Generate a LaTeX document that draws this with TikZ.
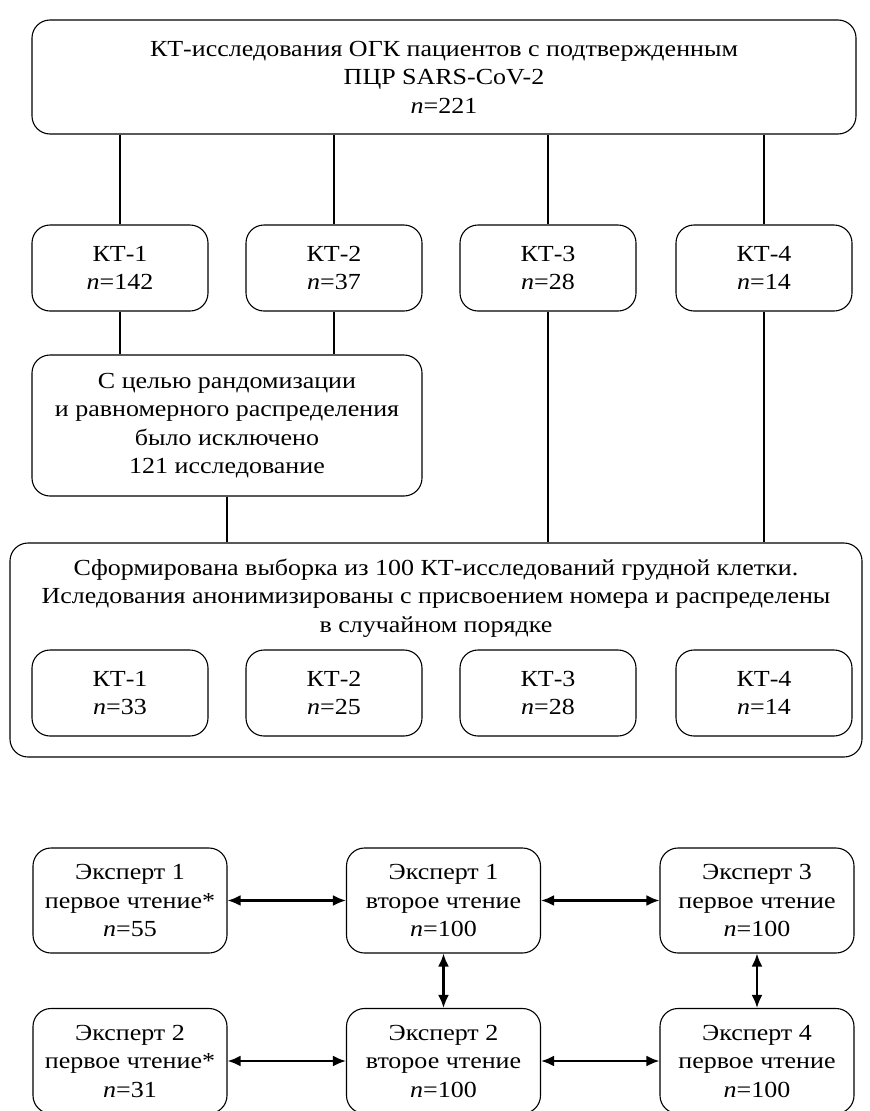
\documentclass[tikz,border=0pt]{standalone}
\usepackage{fontspec}
\setmainfont{Liberation Serif}[FakeStretch=1.13]
\usetikzlibrary{arrows.meta,positioning}

\begin{document}
\begin{tikzpicture}[x=1pt,y=-1pt,
		font=\fontsize{23}{28.5}\selectfont,
		box/.style={draw,rounded corners=18pt,line width=1.1pt,align=center,inner sep=0pt},
		kt node/.style={box,minimum width=176pt,minimum height=86pt},
		expert node/.style={box,minimum width=194pt,minimum height=105pt},
		link/.style={line width=1.1pt},
		pair/.style={{Latex[length=13pt,width=11pt]}-{Latex[length=13pt,width=11pt]},line width=2.2pt}]
		\useasboundingbox (0,0) rectangle (870,1111);

		% source
		\node[box,minimum width=824pt,minimum height=114pt] (all) at (444,77)
			{КТ-исследования ОГК пациентов с подтвержденным\\ПЦР SARS-CoV-2\\\textit{n}=221};

		\node[kt node] (ct1) at (120,268) {КТ-1\\\textit{n}=142};
		\node[kt node] (ct2) at (334,268) {КТ-2\\\textit{n}=37};
		\node[kt node] (ct3) at (548,268) {КТ-3\\\textit{n}=28};
		\node[kt node] (ct4) at (764,268) {КТ-4\\\textit{n}=14};

		\node[box,minimum width=390pt,minimum height=141pt] (excl) at (227,425.5)
			{С целью рандомизации\\и равномерного распределения\\было исключено\\121 исследование};

		% sample
		\node[box,minimum width=852pt,minimum height=214pt] (sample) at (436,650) {};
		\node[align=center] (sampletxt) at (436,598)
			{Сформирована выборка из 100 КТ-исследований грудной клетки.\\
			Иследования анонимизированы с присвоением номера и распределены\\
			в случайном порядке};
		\node[kt node,minimum height=86pt] (s1) at (120,693) {КТ-1\\\textit{n}=33};
		\node[kt node,minimum height=86pt] (s2) at (334,693) {КТ-2\\\textit{n}=25};
		\node[kt node,minimum height=86pt] (s3) at (548,693) {КТ-3\\\textit{n}=28};
		\node[kt node,minimum height=86pt] (s4) at (764,693) {КТ-4\\\textit{n}=14};

		\foreach \k in {1,2,3,4}
			\draw[link] (all.south -| ct\k) -- (ct\k.north);
		\draw[link] (ct1) -- (ct1 |- excl.north);
		\draw[link] (ct2) -- (ct2 |- excl.north);
		\draw[link] (excl) -- (excl |- sample.north);
		\draw[link] (ct3) -- (ct3 |- sample.north);
		\draw[link] (ct4) -- (ct4 |- sample.north);

		% readings
		\node[expert node] (e1a) at (130,900.5) {Эксперт 1\\первое чтение*\\\textit{n}=55};
		\node[expert node] (e1b) at (443.5,900.5) {Эксперт 1\\второе чтение\\\textit{n}=100};
		\node[expert node] (e3) at (757,900.5) {Эксперт 3\\первое чтение\\\textit{n}=100};
		\node[expert node] (e2a) at (130,1061) {Эксперт 2\\первое чтение*\\\textit{n}=31};
		\node[expert node] (e2b) at (443.5,1061) {Эксперт 2\\второе чтение\\\textit{n}=100};
		\node[expert node] (e4) at (757,1061) {Эксперт 4\\первое чтение\\\textit{n}=100};

		\draw[pair] (e1a) -- (e1b);
		\draw[pair] (e1b) -- (e3);
		\draw[pair] (e2a) -- (e2b);
		\draw[pair] (e2b) -- (e4);
		\draw[pair] (e1b) -- (e2b);
		\draw[pair] (e3) -- (e4);
\end{tikzpicture}
\end{document}
